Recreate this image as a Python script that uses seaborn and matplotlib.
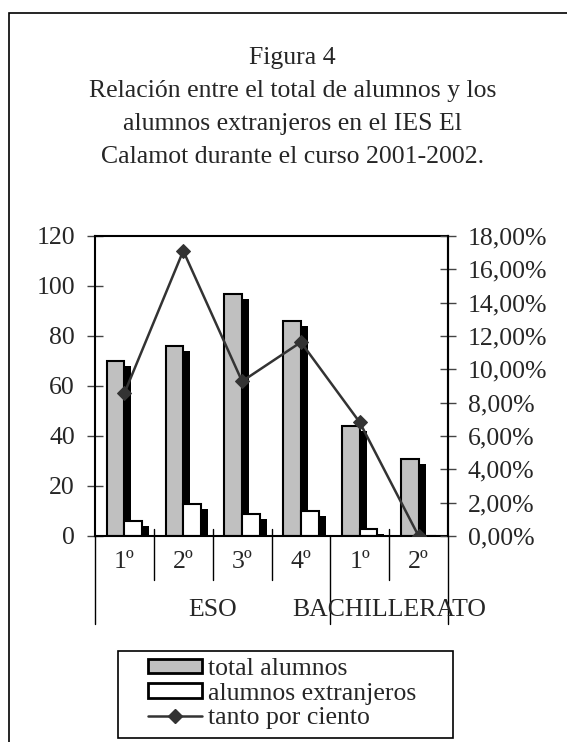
import numpy as np
import pandas as pd
import matplotlib
matplotlib.use('Agg')
import matplotlib.pyplot as plt
import matplotlib.patheffects as pe
from matplotlib.patches import Patch, Rectangle
from matplotlib.lines import Line2D
from matplotlib.ticker import FuncFormatter
import seaborn as sns

# Datos
cursos = ['1º', '2º', '3º', '4º', '1º', '2º']
etapas = ['ESO', 'ESO', 'ESO', 'ESO', 'BACHILLERATO', 'BACHILLERATO']
total_alumnos = [70, 76, 97, 86, 44, 31]
alumnos_extranjeros = [6, 13, 9, 10, 3, 0]
tanto_por_ciento = [8.57, 17.11, 9.28, 11.63, 6.82, 0.00]

series = ['total alumnos', 'alumnos extranjeros']
colores = ['#c0c0c0', '#ffffff']
titulo = ['Figura 4',
          'Relación entre el total de alumnos y los',
          'alumnos extranjeros en el IES El',
          'Calamot durante el curso 2001-2002.']

sns.set_style('white')
plt.rcParams['font.family'] = ['Liberation Serif', 'DejaVu Serif']
fs = 18.5

W, H = 567, 742
fig = plt.figure(figsize=(W / 100, H / 100), dpi=100)
ax = fig.add_axes([95 / W, 1 - 536 / H, (448 - 95) / W, 300 / H])

pos = np.arange(len(cursos))
df = pd.DataFrame({
    'pos': np.concatenate([pos, pos]),
    'valor': total_alumnos + alumnos_extranjeros,
    'serie': [series[0]] * len(pos) + [series[1]] * len(pos),
})

# Barras con sombra
sns.barplot(data=df, x='pos', y='valor', hue='serie', hue_order=series,
            palette=colores, width=0.6, edgecolor='black', linewidth=1.5,
            saturation=1, legend=False, ax=ax)
sombra = [pe.SimplePatchShadow(offset=(5, -3.6), shadow_rgbFace='black', alpha=1),
          pe.Normal()]
for p in ax.patches:
    p.set_path_effects(sombra)

# Linea de porcentaje
ax2 = ax.twinx()
sns.lineplot(x=pos, y=tanto_por_ciento, ax=ax2, color='#333333', marker='D',
             markersize=7, markeredgecolor='#333333', linewidth=1.8)

ax.set_ylim(0, 120)
ax.set_yticks(range(0, 121, 20))
ax2.set_ylim(0, 18)
ax2.set_yticks(range(0, 19, 2))
ax2.yaxis.set_major_formatter(FuncFormatter(lambda v, _: f'{v:.2f}%'.replace('.', ',')))
ax.set_xlim(-0.5, 5.5)
ax.set_xlabel('')
ax.set_ylabel('')
ax2.set_ylabel('')
ax.set_xticks(pos)
ax.set_xticklabels(cursos)

ax.tick_params(axis='x', length=0, pad=11, labelsize=fs)
ax.tick_params(axis='y', direction='inout', length=11.5, width=1, color='#444444',
               pad=8.6, labelsize=fs, left=True)
ax2.tick_params(axis='y', direction='inout', length=11.5, width=1, color='#444444',
                pad=8.6, labelsize=fs, right=True)

for s in ax.spines.values():
    s.set_visible(True)
    s.set_color('black')
    s.set_linewidth(1.5)
for k, s in ax2.spines.items():
    s.set_visible(k == 'right')
    s.set_color('black')
    s.set_linewidth(1.5)

# Separadores del eje de categorias
trans = ax.get_xaxis_transform()
limites = np.arange(-0.5, len(cursos))
for i, x in enumerate(limites):
    cambio = i == 0 or i == len(cursos) or etapas[i] != etapas[i - 1]
    if cambio:
        ax.plot([x, x], [0, -0.293], transform=trans, color='black', lw=1, clip_on=False)
    else:
        ax.plot([x, x], [0.023, -0.147], transform=trans, color='black', lw=1, clip_on=False)

for etapa in dict.fromkeys(etapas):
    idx = [i for i, e in enumerate(etapas) if e == etapa]
    ax.text(np.mean(idx), -0.247, etapa, transform=trans, ha='center', va='center',
            fontsize=fs)

# Titulo
for i, linea in enumerate(titulo):
    fig.text(292.5 / W, 1 - (64 + 33 * i) / H, linea, ha='center', va='baseline',
             fontsize=fs)

# Marco exterior y leyenda
fig.patches.append(Rectangle((9 / W, -0.1), 1.2, 1 - 13 / H + 0.1,
                             transform=fig.transFigure, fill=False,
                             edgecolor='black', lw=1.2))
fig.patches.append(Rectangle((118 / W, 1 - 738 / H), (453 - 118) / W, (738 - 651) / H,
                             transform=fig.transFigure, fill=False,
                             edgecolor='black', lw=1.2))
handles = [Patch(facecolor=colores[0], edgecolor='black', lw=2),
           Patch(facecolor=colores[1], edgecolor='black', lw=2),
           Line2D([], [], color='#333333', marker='D', markersize=7, lw=1.8)]
fig.legend(handles, series + ['tanto por ciento'], loc='upper left',
           bbox_to_anchor=(148 / W, 1 - 658 / H), frameon=False, fontsize=fs,
           borderpad=0, borderaxespad=0, handlelength=2.1, handleheight=0.5,
           handletextpad=0.25, labelspacing=0.1)

fig.savefig('out.png', dpi=100)
